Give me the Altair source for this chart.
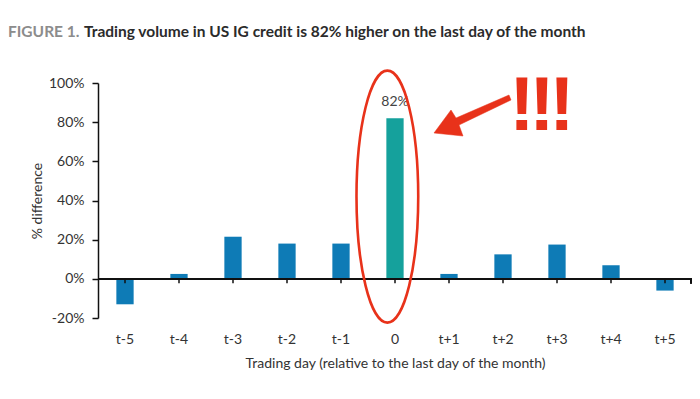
import altair as alt
import pandas as pd

# ---- data ----
days = ["t-5", "t-4", "t-3", "t-2", "t-1", "0", "t+1", "t+2", "t+3", "t+4", "t+5"]
values = [-13, 2.5, 21.5, 18, 18, 82, 2.5, 12.5, 17.5, 7, -6]
highlight = [d == "0" for d in days]
labels = ["82%" if d == "0" else "" for d in days]

y_ticks = [-20, 0, 20, 40, 60, 80, 100]

title_prefix = "FIGURE 1."
title_main = "Trading volume in US IG credit is 82% higher on the last day of the month"
x_title = "Trading day (relative to the last day of the month)"
y_title = "% difference"

BLUE = "#0e7bb6"
TEAL = "#15a19c"
RED = "#e8321a"
FONT = "Lato"

W, H = 594, 235

df = pd.DataFrame({"day": days, "value": values, "hl": highlight, "label": labels})

x_scale = alt.Scale(domain=days, paddingInner=0.68, paddingOuter=0.34)
y_scale = alt.Scale(domain=[-20, 100], nice=False)

x_axis = alt.Axis(title=x_title, domain=False, ticks=False, labelAngle=0,
                  labelPadding=14, titlePadding=10, labelFontSize=14,
                  titleFontSize=14, labelColor="#333", titleColor="#333",
                  labelFont=FONT, titleFont=FONT, titleFontWeight="normal")
y_axis = alt.Axis(title=y_title, values=y_ticks, grid=False, labelOverlap=False,
                  labelExpr="datum.value + '%'", domainColor="#111",
                  domainWidth=1.5, tickColor="#111", tickWidth=1.5, tickSize=6,
                  labelPadding=8, labelFontSize=14, titleFontSize=14,
                  labelColor="#333", titleColor="#333", labelFont=FONT,
                  titleFont=FONT, titleFontWeight="normal", titlePadding=4)

X = alt.X("day:N", scale=x_scale, sort=days, axis=x_axis)

base = alt.Chart(df)

bars = base.mark_bar().encode(
    x=X,
    y=alt.Y("value:Q", scale=y_scale, axis=y_axis),
    color=alt.Color("hl:N", scale=alt.Scale(domain=[False, True], range=[BLUE, TEAL]),
                    legend=None),
)

zero_line = base.mark_rule(color="#111", strokeWidth=1.5).encode(
    y=alt.YDatum(0, axis=y_axis, scale=y_scale), x=alt.value(0), x2=alt.value(W)
)
zero_ticks = base.mark_rule(color="#111", strokeWidth=1.5).encode(
    x=X, y=alt.YDatum(0, axis=y_axis, scale=y_scale), y2=alt.Y2Datum(-2.2)
)
end_tick = base.mark_rule(color="#111", strokeWidth=1.5).encode(
    x=alt.value(W - 1), y=alt.YDatum(0, axis=y_axis, scale=y_scale), y2=alt.Y2Datum(-2.2)
)

bar_label = base.transform_filter("datum.label != ''").mark_text(
    baseline="bottom", dy=-9, fontSize=14, color="#444", font=FONT
).encode(x=X, y=alt.Y("value:Q", scale=y_scale, axis=y_axis), text="label:N")

# red ellipse around the highlighted bar (custom unit-space path)
a = 0.245
k = 0.5523
ell = (f"M0,-1 C{k*a:.3f},-1 {a},-{k} {a},0 C{a},{k} {k*a:.3f},1 0,1 "
       f"C-{k*a:.3f},1 -{a},{k} -{a},0 C-{a},-{k} -{k*a:.3f},-1 0,-1 Z")
ellipse = base.transform_filter("datum.hl").mark_point(
    shape=ell, filled=False, stroke=RED, strokeWidth=2.6, size=252 ** 2, opacity=1
).encode(x=X, y=alt.YDatum(42, axis=y_axis, scale=y_scale), xOffset=alt.value(1))

arrow_path = ("M-0.76,0.36 L-0.42,-0.10 L-0.32,0.06 L0.74,-0.40 L0.78,-0.30 "
              "L-0.26,0.20 L-0.18,0.42 Z")
arrow = base.transform_filter("datum.hl").mark_point(
    shape=arrow_path, filled=True, fill=RED, stroke=RED, strokeWidth=0.5,
    size=10000, opacity=1
).encode(x=alt.value(374), y=alt.value(32))

excl = alt.Chart(pd.DataFrame({"t": ["!", "!", "!"], "px": [424, 444, 464]})).mark_text(
    fontSize=76, fontWeight="bold", color=RED, font="Liberation Sans",
    baseline="alphabetic", align="center"
).encode(x=alt.X("px:Q", scale=None), y=alt.value(47), text="t:N")

t1 = alt.Chart(pd.DataFrame({"t": [title_prefix]})).mark_text(
    align="left", baseline="alphabetic", fontSize=15.5, fontWeight="bold",
    color="#8c8c8c", font=FONT
).encode(x=alt.value(-90), y=alt.value(-46), text="t:N")
t2 = alt.Chart(pd.DataFrame({"t": [title_main]})).mark_text(
    align="left", baseline="alphabetic", fontSize=15.5, fontWeight="bold",
    color="#2b2b2b", font=FONT
).encode(x=alt.value(-14), y=alt.value(-46), text="t:N")

chart = alt.layer(
    bars, zero_line, zero_ticks, end_tick, bar_label, ellipse, arrow, excl, t1, t2
).properties(
    width=W, height=H,
    autosize=alt.AutoSizeParams(type="none"),
    padding={"left": 90, "top": 75, "right": 0, "bottom": 60},
).configure_view(stroke=None).configure_axisY(labelOverlap=False)

chart.save("out.html", embed_options={"renderer": "svg", "actions": False})
